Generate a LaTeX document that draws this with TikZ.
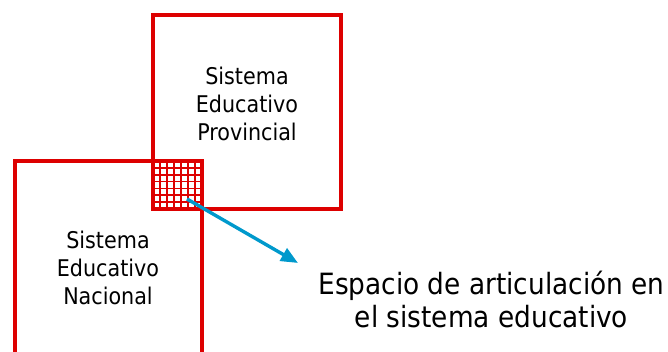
\documentclass[tikz,border=0pt]{standalone}
\usepackage{fontspec}
\setmainfont{DejaVu Sans Condensed}
\usetikzlibrary{arrows.meta}
\definecolor{rojo}{RGB}{221,0,0}
\definecolor{celeste}{RGB}{0,153,204}

\begin{document}
\begin{tikzpicture}[x=1pt, y=-1pt,
		caja/.style={draw=rojo, line width=3.2pt, inner sep=0pt},
		rejilla/.style={draw=rojo, line width=1.6pt},
		texto/.style={align=center, inner sep=0pt, font=\fontsize{23}{28}\selectfont},
		flecha/.style={draw=celeste, line width=3.4pt, -{Triangle[length=17pt, width=14pt]}}]
		\clip (0,0) rectangle (668,351);
		\node[caja, minimum width=188pt, minimum height=194pt] (prov) at (247,112) {};
		\node[caja, minimum width=187pt, minimum height=209pt] (nac) at (108.5,265.5) {};
		\foreach \i in {0,...,7} {
			\draw[rejilla] (153+7*\i,161) -- (153+7*\i,209); % verticales
			\draw[rejilla] (153,161+48/7*\i) -- (202,161+48/7*\i); % horizontales
		}
		\node[texto] (tprov) at (247,104) {Sistema\\Educativo\\Provincial};
		\node[texto] (tnac) at (108,268) {Sistema\\Educativo\\Nacional};
		\node[texto, font=\fontsize{29.3}{33}\selectfont] (esp) at (491.5,299) {Espacio de articulación en\\el sistema educativo};
		\coordinate (origen) at (187,199);
		\coordinate (punta) at (298,263);
		\path[flecha] (origen) -- (punta); % hacia el espacio
\end{tikzpicture}
\end{document}
